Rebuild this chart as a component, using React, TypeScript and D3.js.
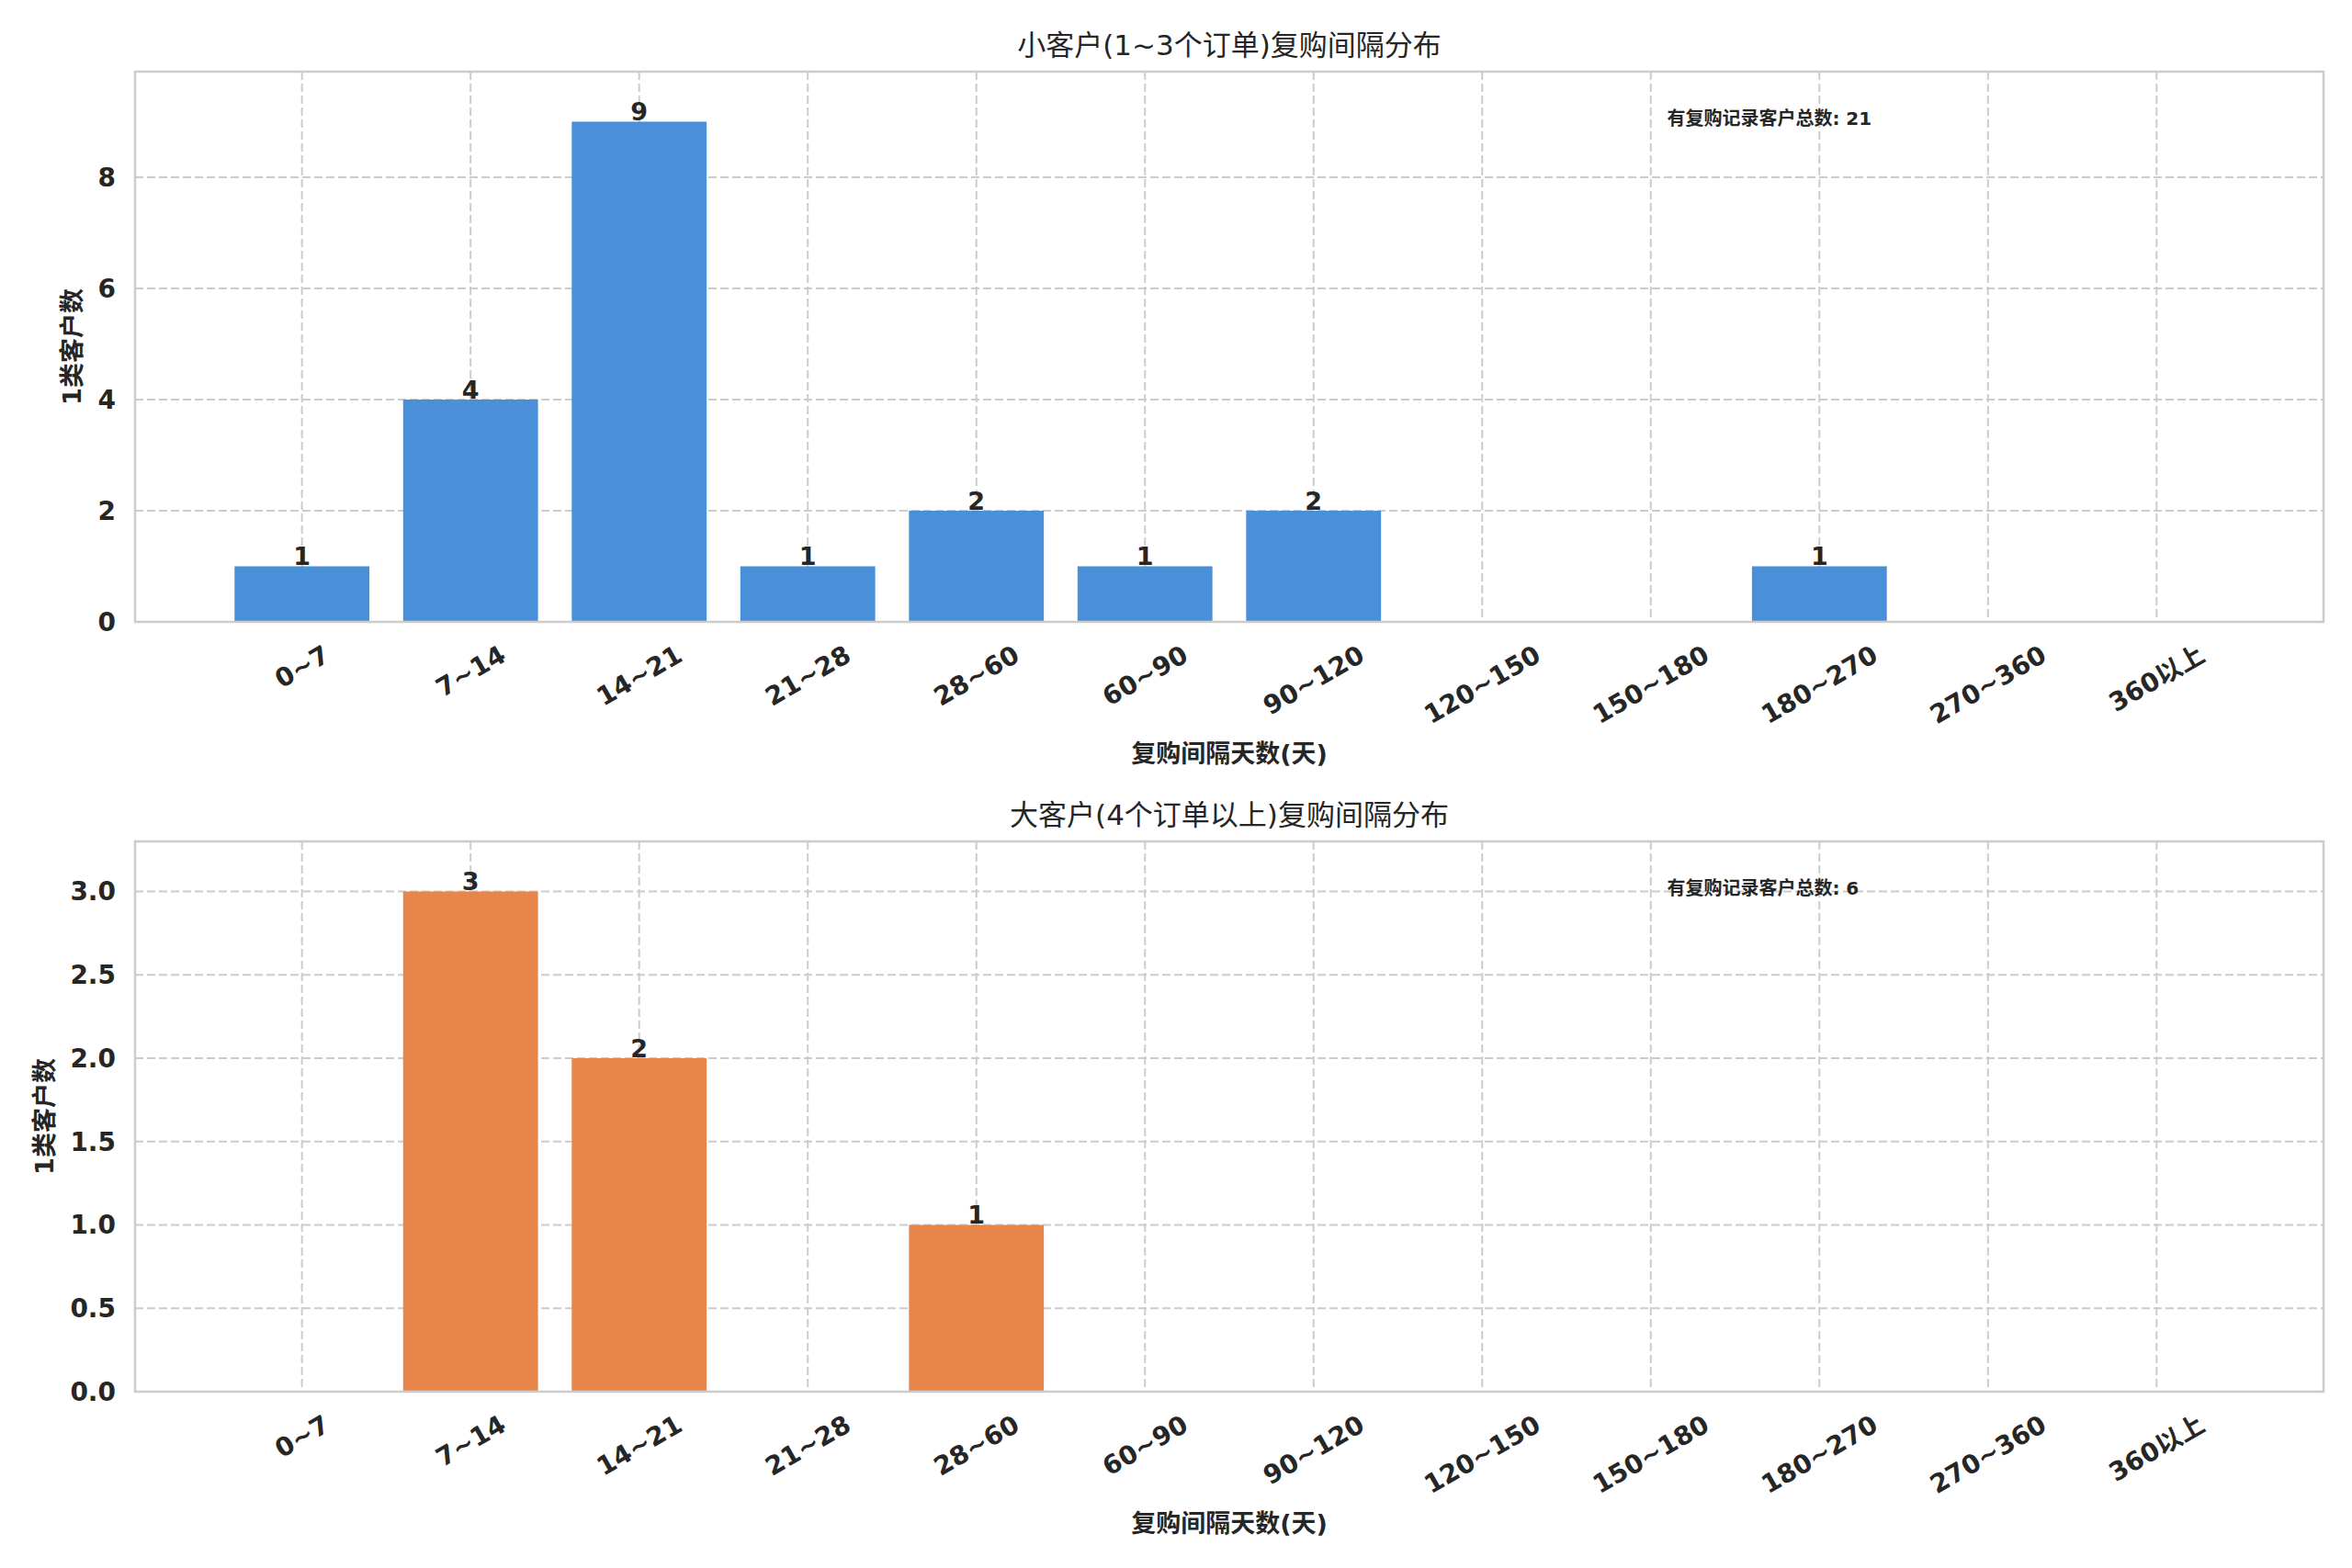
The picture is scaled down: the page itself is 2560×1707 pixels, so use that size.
import React from 'react';
import * as d3 from 'd3';

// interval buckets (days) shared by both panels
const categories = [
  '0~7', '7~14', '14~21', '21~28', '28~60', '60~90',
  '90~120', '120~150', '150~180', '180~270', '270~360', '360以上',
];

const smallCounts = [1, 4, 9, 1, 2, 1, 2, 0, 0, 1, 0, 0];
const largeCounts = [0, 3, 2, 0, 1, 0, 0, 0, 0, 0, 0, 0];

const smallTicks = [0, 2, 4, 6, 8];
const largeTicks = [0, 0.5, 1.0, 1.5, 2.0, 2.5, 3.0];

const smallTitle = '小客户(1~3个订单)复购间隔分布';
const largeTitle = '大客户(4个订单以上)复购间隔分布';
const xLabel = '复购间隔天数(天)';
const yLabel = '1类客户数';
const noteLabel = '有复购记录客户总数';

const WIDTH = 2560;
const HEIGHT = 1707;
const AX_LEFT = 147;
const AX_WIDTH = 2382;
const AX_HEIGHT = 599;

const FONT = "'DejaVu Sans', 'Noto Sans CJK SC', sans-serif";
const TEXT = '#262626';
const GRID = '#cccccc';
const SPINE = '#cccccc';
const TICK_SIZE = 28;

// rough width of bold DejaVu text, CJK counted as full em
const textWidth = (s: string, size: number) =>
  d3.sum(Array.from(s), (c) => {
    if (/[\u4e00-\u9fff]/.test(c)) return 1.0;
    if (c === '~') return 0.838;
    if (c === '.') return 0.38;
    return 0.696;
  }) * size;

type PanelProps = {
  top: number;
  values: number[];
  ticks: number[];
  tickFormat: (v: number) => string;
  color: string;
  title: string;
};

const Panel: React.FC<PanelProps> = ({ top, values, ticks, tickFormat, color, title }) => {
  const x = d3.scaleBand<string>()
    .domain(categories)
    .range([0, AX_WIDTH])
    .paddingInner(0.2)
    .paddingOuter(0.59);

  const y = d3.scaleLinear()
    .domain([0, (d3.max(values) ?? 1) * 1.1])
    .range([AX_HEIGHT, 0]);

  const total = d3.sum(values);
  const maxTickW = d3.max(ticks, (t) => textWidth(tickFormat(t), TICK_SIZE)) ?? 0;
  const tickRight = -21;
  const yLabelX = tickRight - maxTickW - 28;

  const rot = Math.PI / 6;
  const lineH = TICK_SIZE * 1.16;

  return (
    <g transform={`translate(${AX_LEFT}, ${top})`} fontFamily={FONT} fill={TEXT}>
      <text
        x={AX_WIDTH / 2}
        y={-18}
        textAnchor="middle"
        fontSize={31}
      >
        {title}
      </text>

      {/* grid */}
      {ticks.map((t) => (
        <line
          key={`h${t}`}
          x1={0}
          x2={AX_WIDTH}
          y1={y(t)}
          y2={y(t)}
          stroke={GRID}
          strokeWidth={2}
          strokeDasharray="9,4"
        />
      ))}
      {categories.map((c) => {
        const cx = (x(c) ?? 0) + x.bandwidth() / 2;
        return (
          <line
            key={`v${c}`}
            x1={cx}
            x2={cx}
            y1={0}
            y2={AX_HEIGHT}
            stroke={GRID}
            strokeWidth={2}
            strokeDasharray="9,4"
          />
        );
      })}

      {/* bars */}
      {values.map((v, i) =>
        v > 0 ? (
          <g key={categories[i]}>
            <rect
              x={x(categories[i])}
              y={y(v)}
              width={x.bandwidth()}
              height={AX_HEIGHT - y(v)}
              fill={color}
            />
            <text
              x={(x(categories[i]) ?? 0) + x.bandwidth() / 2}
              y={y(v) - 1}
              textAnchor="middle"
              fontSize={27}
              fontWeight="bold"
            >
              {v}
            </text>
          </g>
        ) : null
      )}

      {/* spines */}
      <rect
        x={0}
        y={0}
        width={AX_WIDTH}
        height={AX_HEIGHT}
        fill="none"
        stroke={SPINE}
        strokeWidth={2.5}
      />

      {/* y ticks */}
      {ticks.map((t) => (
        <text
          key={`yt${t}`}
          x={tickRight}
          y={y(t)}
          dy="0.35em"
          textAnchor="end"
          fontSize={TICK_SIZE}
          fontWeight="bold"
        >
          {tickFormat(t)}
        </text>
      ))}

      {/* x ticks, rotated 30deg around their centre */}
      {categories.map((c) => {
        const cx = (x(c) ?? 0) + x.bandwidth() / 2;
        const w = textWidth(c, TICK_SIZE);
        const half = (w * Math.sin(rot) + lineH * Math.cos(rot)) / 2;
        return (
          <text
            key={`xt${c}`}
            transform={`translate(${cx}, ${AX_HEIGHT + 19 + half}) rotate(-30)`}
            textAnchor="middle"
            dy="0.35em"
            fontSize={TICK_SIZE}
            fontWeight="bold"
          >
            {c}
          </text>
        );
      })}

      <text
        x={AX_WIDTH / 2}
        y={AX_HEIGHT + 153}
        textAnchor="middle"
        fontSize={27}
        fontWeight="bold"
      >
        {xLabel}
      </text>

      <text
        transform={`translate(${yLabelX}, ${AX_HEIGHT / 2}) rotate(-90)`}
        textAnchor="middle"
        dy="0.35em"
        fontSize={27}
        fontWeight="bold"
      >
        {yLabel}
      </text>

      <text
        x={AX_WIDTH * 0.7}
        y={51}
        dy="0.35em"
        fontSize={20}
        fontWeight="bold"
      >
        {`${noteLabel}: ${total}`}
      </text>
    </g>
  );
};

const App: React.FC = () => (
  <svg
    width={WIDTH}
    height={HEIGHT}
    style={{ position: 'absolute', left: 0, top: 0, background: '#fff' }}
  >
    <rect width={WIDTH} height={HEIGHT} fill="#fff" />
    <Panel
      top={78}
      values={smallCounts}
      ticks={smallTicks}
      tickFormat={(v) => d3.format('d')(v)}
      color="#4a90d9"
      title={smallTitle}
    />
    <Panel
      top={916}
      values={largeCounts}
      ticks={largeTicks}
      tickFormat={(v) => d3.format('.1f')(v)}
      color="#e8854b"
      title={largeTitle}
    />
  </svg>
);

export default App;
